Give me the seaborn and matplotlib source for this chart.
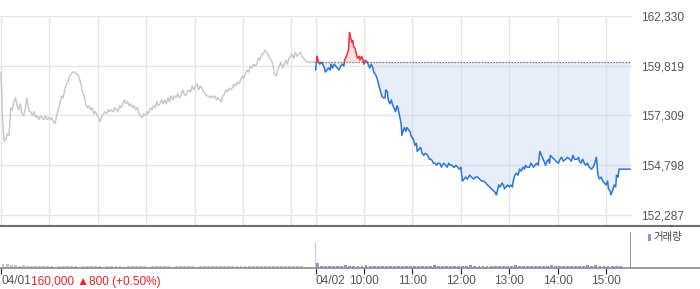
import numpy as np
import pandas as pd
import matplotlib
matplotlib.use("Agg")
import matplotlib.pyplot as plt
import seaborn as sns
from matplotlib.patches import Rectangle
from matplotlib.lines import Line2D
from matplotlib.transforms import blended_transform_factory

# ---------------- data ----------------
# minutes since 09:00 for each trading day, prices in KRW
times_0401 = [0, 2, 4, 6, 8, 10, 12, 14, 16, 18, 20, 22, 24, 26, 28, 30, 32, 33, 35, 37,
              39, 41, 43, 45, 47, 49, 51, 53, 55, 57, 59, 61, 63, 65, 67, 69, 71, 73, 75, 77,
              79, 81, 83, 85, 87, 89, 91, 93, 95, 97, 99, 101, 103, 105, 107, 109, 111, 113, 115, 117,
              119, 121, 123, 125, 127, 129, 131, 133, 135, 137, 139, 141, 143, 145, 147, 149, 151, 153, 155, 157,
              159, 161, 163, 165, 167, 169, 171, 173, 175, 177, 179, 181, 183, 185, 187, 189, 191, 193, 195, 197,
              199, 201, 203, 205, 207, 209, 211, 213, 215, 217, 219, 221, 223, 225, 227, 229, 231, 233, 235, 237,
              239, 241, 243, 245, 247, 249, 251, 253, 255, 257, 259, 261, 263, 265, 267, 269, 271, 273, 275, 277,
              279, 281, 283, 285, 287, 289, 291, 293, 295, 297, 299, 301, 303, 305, 307, 309, 311, 313, 315, 317,
              319, 321, 323, 325, 327, 329, 331, 333, 335, 337, 339, 341, 343, 345, 347, 349, 351, 353, 355, 357,
              359, 361, 363, 365, 367, 369, 371, 373, 375, 377, 379, 390]
price_0401 = [159500, 157000, 156000, 156100, 156400, 156300, 157700, 157600, 158000, 158200,
              157800, 157600, 157900, 157400, 157300, 157600, 158200, 157900, 157500, 157500,
              157300, 157500, 157200, 157300, 157100, 157300, 157200, 157100, 157300, 157100,
              157200, 157100, 157200, 157000, 156900, 157300, 157600, 157900, 158300, 158200,
              158600, 158900, 159000, 159300, 159400, 159500, 159500, 159400, 159400, 159200,
              158900, 158500, 158300, 157900, 157700, 157800, 157600, 157700, 157400, 157500,
              157300, 157200, 157000, 157300, 157400, 157500, 157400, 157600, 157500, 157600,
              157500, 157700, 157600, 157500, 157800, 157700, 157900, 158100, 157900, 158000,
              157800, 157900, 157700, 157800, 157600, 157700, 157400, 157300, 157200, 157400,
              157300, 157500, 157400, 157700, 157600, 157800, 157700, 158000, 157800, 157900,
              158100, 157900, 158100, 157900, 158200, 158000, 158300, 158100, 158300, 158200,
              158400, 158200, 158300, 158600, 158400, 158300, 158500, 158600, 158500, 158800,
              158600, 158800, 158900, 158600, 158800, 158700, 158500, 158400, 158300, 158300,
              158200, 158300, 158200, 158300, 158100, 158200, 158100, 158000, 158300, 158400,
              158600, 158500, 158700, 158600, 158700, 158900, 158800, 159000, 158900, 159100,
              159300, 159200, 159400, 159600, 159500, 159800, 159700, 159900, 159800, 159900,
              160200, 160100, 160400, 160400, 160600, 160500, 160400, 160200, 160100, 159900,
              159400, 159300, 159600, 159800, 160000, 159700, 159900, 160100, 159900, 160200,
              160300, 160400, 160200, 160500, 160300, 160400, 160500, 160300, 160200, 160100,
              160000, 160000]

times_0402 = [0, 1, 2, 3, 5, 7, 9, 11, 12, 14, 16, 18, 19, 21, 23, 25, 27, 29, 31, 33,
              35, 36, 38, 40, 41, 42, 43, 45, 46, 47, 49, 50, 52, 54, 55, 57, 59, 60, 62, 64,
              66, 67, 69, 71, 72, 74, 76, 78, 80, 82, 84, 86, 87, 89, 90, 92, 94, 95, 97, 99,
              101, 102, 104, 106, 107, 109, 110, 112, 113, 115, 117, 119, 120, 122, 123, 125, 126, 128, 130, 132,
              134, 136, 139, 141, 143, 145, 146, 148, 150, 152, 154, 156, 157, 159, 161, 163, 165, 167, 169, 171,
              172, 174, 176, 178, 180, 182, 184, 186, 188, 191, 193, 196, 198, 201, 203, 206, 208, 211, 213, 216,
              218, 221, 223, 224, 226, 227, 229, 231, 233, 234, 236, 238, 240, 242, 244, 245, 247, 249, 251, 253,
              255, 257, 259, 260, 262, 265, 267, 270, 272, 274, 276, 278, 280, 282, 284, 285, 287, 289, 290, 291,
              293, 296, 298, 301, 303, 305, 307, 310, 312, 315, 317, 319, 321, 324, 326, 327, 329, 331, 333, 335,
              337, 339, 342, 344, 346, 348, 350, 352, 354, 356, 358, 360, 362, 363, 365, 366, 368, 370, 372, 373,
              375, 376, 378, 379, 390]
price_0402 = [159600, 160000, 160300, 160100, 159900, 160000, 159900, 159700, 159500, 159600,
              159700, 159600, 159900, 159700, 159900, 159800, 159700, 159600, 159800, 159900,
              159800, 160100, 160300, 160500, 160700, 161500, 161300, 161000, 161100, 160800,
              160700, 160500, 160200, 160300, 160100, 160300, 160100, 159900, 160100, 160000,
              159800, 159700, 159900, 159700, 159500, 159400, 159200, 158900, 158600, 158300,
              158200, 158200, 158600, 158500, 158100, 157900, 158100, 157900, 157700, 157500,
              157800, 157700, 157300, 156900, 156300, 156600, 156700, 156500, 156700, 156600,
              156500, 156200, 156200, 156000, 155800, 155900, 155500, 155600, 155700, 155400,
              155300, 155400, 155300, 155100, 155100, 155000, 154900, 154900, 154800, 154900,
              154900, 154700, 154800, 154900, 154800, 154700, 154900, 154800, 154800, 154700,
              154700, 154800, 154700, 154600, 154700, 154000, 154100, 154200, 154100, 154300,
              154200, 154100, 154200, 154200, 154100, 154000, 154000, 153900, 153800, 153700,
              153600, 153500, 153400, 153300, 153600, 153800, 153700, 153900, 153800, 153600,
              153700, 153800, 153700, 153800, 153700, 154000, 154300, 154400, 154300, 154600,
              154500, 154700, 154600, 154800, 154700, 154700, 154900, 154700, 154800, 154900,
              154800, 155500, 155300, 155100, 154900, 154800, 155000, 155100, 154900, 155300,
              155200, 155100, 155000, 154900, 155100, 155200, 155000, 155100, 155200, 155100,
              155000, 155300, 155100, 155100, 155200, 155000, 154900, 155100, 154900, 154800,
              154900, 154700, 154600, 154700, 154900, 155200, 154300, 154100, 154200, 154000,
              153900, 153800, 154000, 153600, 153500, 153300, 153500, 153800, 153700, 154300,
              154200, 154600, 154600, 154600, 154600]

prev_close = 160000
y_ticks = [152287, 154798, 157309, 159819, 162330]

# 5-minute volume bins (relative units), then closing-auction volume
vol_0401 = [44, 36, 30, 26, 22, 28, 20, 18, 22, 19, 16, 21, 18, 15, 19, 22, 16, 18, 21, 15,
            18, 19, 16, 22, 18, 15, 16, 19, 18, 21, 15, 16, 18, 24, 19, 16, 15, 18, 21, 16,
            19, 18, 15, 16, 19, 18, 21, 16, 15, 18, 19, 16, 18, 22, 19, 18, 16, 21, 18, 19,
            24, 18, 16, 19, 21, 18, 16, 19, 22, 18, 21, 19, 18, 16, 19, 15, 0, 0]
vol_0402 = [46, 22, 24, 20, 21, 19, 23, 26, 22, 21, 20, 19, 28, 24, 22, 21, 18, 20, 23, 19,
            18, 22, 20, 24, 21, 19, 18, 20, 22, 26, 19, 18, 21, 23, 20, 22, 24, 19, 32, 21,
            20, 18, 22, 19, 24, 21, 19, 20, 23, 26, 19, 21, 22, 20, 24, 21, 19, 22, 28, 20,
            19, 21, 23, 20, 22, 19, 18, 26, 21, 34, 22, 20, 19, 23, 21, 20, 0, 0]
close_vol_0401 = 265
close_vol_0402 = 363

hour_labels = ["10:00", "11:00", "12:00", "13:00", "14:00", "15:00"]
hour_pos = [450, 510, 570, 630, 690, 750]
day_labels = ["04/01", "04/02"]
summary_label = "160,000 \u25B2800 (+0.50%)"

# ---------------- style ----------------
sns.set_theme(style="white")
plt.rcParams['font.family'] = ['Liberation Sans', 'DejaVu Sans', 'Noto Sans CJK KR']

W, H = 700, 289
fig = plt.figure(figsize=(W / 100, H / 100), dpi=100)
fig.patch.set_facecolor("white")

XMIN, XMAX = -1.24, 782.2
ax = fig.add_axes([0, 1 - 225 / H, 632 / W, 209 / H])
axv = fig.add_axes([0, 1 - 268 / H, 632 / W, 42 / H])

GRAY_LINE = "#c5c5ca"
BLUE = "#2f74d8"
RED = "#f0303a"
PURPLE = "#9d90d2"
GRID = "#e6e6e6"

# ---------------- price panel ----------------
ax.set_xlim(XMIN, XMAX)
ax.set_ylim(151782, 162330)
for s in ax.spines.values():
    s.set_visible(False)

grid_x = [0, 60, 120, 180, 240, 300, 360, 390, 450, 510, 570, 630, 690, 750]
ax.set_xticks(grid_x)
ax.set_xticklabels([])
ax.tick_params(axis='x', length=0)
ax.set_yticks(y_ticks)
ax.set_yticklabels([f"{v:,}" for v in y_ticks])
ax.yaxis.tick_right()
ax.tick_params(axis='y', length=0, pad=6.2, labelsize=8.6, labelcolor="#555555")
ax.grid(True, color=GRID, lw=1)
ax.set_axisbelow(True)

df1 = pd.DataFrame({"t": times_0401, "p": price_0401})
sns.lineplot(data=df1, x="t", y="p", ax=ax, color=GRAY_LINE, lw=1.0, estimator=None)

t2 = np.array(times_0402) + 390
p2 = np.array(price_0402)
df2 = pd.DataFrame({"t": t2, "p": p2})

ax.fill_between(t2, p2, prev_close, where=p2 <= prev_close, interpolate=True,
                color="#c9dbf3", alpha=0.45, lw=0)
ax.fill_between(t2, p2, prev_close, where=p2 >= prev_close, interpolate=True,
                color="#f9b9bd", alpha=0.45, lw=0)

ax.hlines(prev_close, 390, 780, colors="#555555", linestyles=(0, (1, 1.4)), lw=0.9, zorder=3)

sns.lineplot(data=df2, x="t", y="p", ax=ax, color=BLUE, lw=1.1, estimator=None)
blue_line = ax.lines[-1]
blue_line.set_clip_path(Rectangle((380, 140000), 420, prev_close - 140000, transform=ax.transData))
sns.lineplot(data=df2, x="t", y="p", ax=ax, color=RED, lw=1.1, estimator=None)
red_line = ax.lines[-1]
red_line.set_clip_path(Rectangle((380, prev_close), 420, 20000, transform=ax.transData))
ax.set_xlabel("")
ax.set_ylabel("")

# ---------------- volume panel ----------------
axv.set_xlim(XMIN, XMAX)
axv.set_ylim(0, 420)
for s in axv.spines.values():
    s.set_visible(False)
bins = np.arange(len(vol_0401)) * 5 + 2.5
axv.bar(bins, vol_0401, width=3.6, color="#c4c4c4", lw=0)
axv.bar(bins + 390, vol_0402, width=3.6, color=PURPLE, lw=0)
axv.bar([390], [close_vol_0401], width=1.0, color="#c8c8c8", lw=0)
axv.bar([780], [close_vol_0402], width=1.2, color=PURPLE, lw=0)
axv.set_yticks([])
axv.set_xticks([0, 390] + hour_pos)
axv.set_xticklabels([])
axv.tick_params(axis='x', length=4, width=0.9, color="#333333", direction="out",
                pad=2, bottom=True)
axv.set_facecolor("none")

# figure-wide separator lines
fig.add_artist(Line2D([0, 1], [1 - 225.5 / H] * 2, transform=fig.transFigure, color="#6e6e6e", lw=1.5))
fig.add_artist(Line2D([0, 1], [1 - 268 / H] * 2, transform=fig.transFigure, color="#8a8a8a", lw=1.2))

# axis labels
trans = blended_transform_factory(axv.transData, fig.transFigure)
ylab = 1 - 281.5 / H
t01 = axv.text(0, ylab, day_labels[0], transform=trans, ha="left", va="center",
               fontsize=8.6, color="#555555")
axv.annotate(summary_label, xy=(1, 0.5), xycoords=t01, ha="left", va="center",
             fontsize=8.6, color="#e8232b")
axv.text(390, ylab, day_labels[1], transform=trans, ha="left", va="center",
         fontsize=8.6, color="#555555")
for pos, lab in zip(hour_pos, hour_labels):
    axv.text(pos, ylab, lab, transform=trans, ha="center", va="center",
             fontsize=8.6, color="#555555")

# volume legend
fig.add_artist(Rectangle((648 / W, 1 - 240.5 / H), 3 / W, 7 / H, transform=fig.transFigure,
                         color=PURPLE, lw=0))
fig.text(653 / W, 1 - 237 / H, "거래량", fontsize=7.5, color="#444444", va="center", ha="left",
         family=["Noto Sans CJK KR", "DejaVu Sans"])

fig.savefig("out.png", dpi=100)
